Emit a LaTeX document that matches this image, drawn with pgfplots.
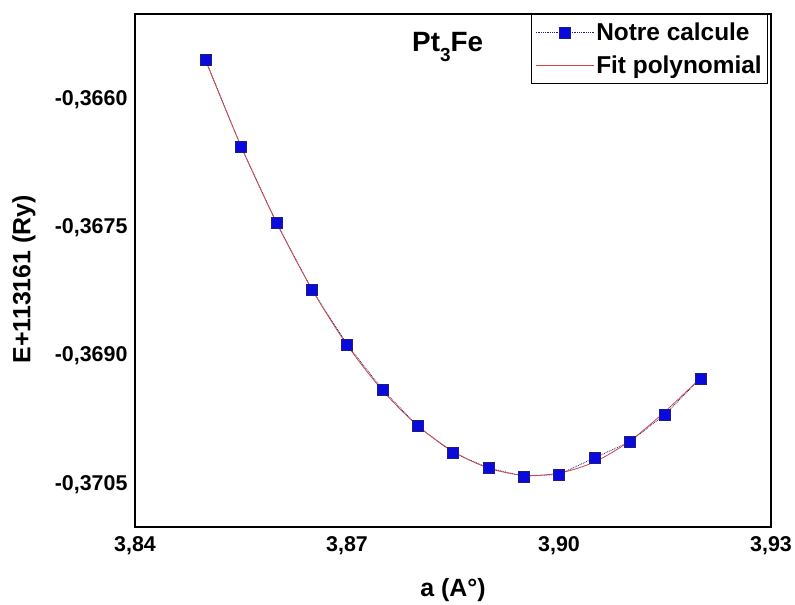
\documentclass[border=0pt]{standalone}
\usepackage{pgfplots}
\pgfplotsset{compat=1.18}
\usepackage{fontspec}
\setmainfont{Liberation Sans}
\definecolor{markblue}{RGB}{10,10,220}
\definecolor{markedge}{RGB}{30,30,130}
\definecolor{fitred}{RGB}{205,70,70}
\pgfplotsset{
  marklegend/.style={legend image code/.code={
    \draw[mark repeat=2,mark phase=2,#1] plot coordinates {(0bp,0bp)(29bp,0bp)(58bp,0bp)};}},
  linelegend/.style={legend image code/.code={\draw[#1] (0bp,0bp) -- (58bp,0bp);}},
}
\begin{document}
\begin{tikzpicture}
\path[use as bounding box] (0,0) rectangle (795bp,605bp);
\begin{axis}[
  at={(135bp,78bp)}, anchor=south west,
  scale only axis, width=636bp, height=513bp,
  xmin=3.84, xmax=3.93, ymin=-0.3710, ymax=-0.3650,
  axis line style={line width=1.8bp},
  major tick length=0pt,
  xtick={3.84,3.87,3.90,3.93},
  xticklabels={{3,84},{3,87},{3,90},{3,93}},
  ytick={-0.3705,-0.3690,-0.3675,-0.3660},
  yticklabels={{-0,3705},{-0,3690},{-0,3675},{-0,3660}},
  tick label style={font=\fontsize{21.5}{25}\selectfont\bfseries},
  xticklabel style={yshift=-6bp},
  yticklabel style={xshift=-4bp},
  xlabel={a (A°)}, ylabel={E+113161 (Ry)},
  label style={font=\fontsize{25}{29}\selectfont\bfseries},
  xlabel style={at={(axis description cs:0.5,-0.123)}, anchor=center},
  ylabel style={at={(axis description cs:-0.1745,0.483)}, anchor=center},
  legend style={at={(rel axis cs:0.9953,1)}, anchor=north east,
    draw=black, line width=0.6bp, font=\fontsize{24.5}{28}\selectfont\bfseries,
    inner xsep=4bp, inner ysep=6.5bp, row sep=10bp,
    /tikz/every even column/.append style={column sep=8bp}},
  legend cell align=left,
]
\addplot[densely dotted, markedge, line width=0.8bp, mark=square*, mark size=5.5bp,
  mark options={solid, fill=markblue, draw=markedge, line width=0.4bp}, marklegend]
coordinates {
(3.850,-0.365539) (3.855,-0.366551) (3.860,-0.367438) (3.865,-0.368219)
(3.870,-0.368863) (3.875,-0.369390) (3.880,-0.369820) (3.885,-0.370133)
(3.890,-0.370309) (3.895,-0.370406) (3.900,-0.370386) (3.905,-0.370192)
(3.910,-0.370004) (3.915,-0.369684) (3.920,-0.369262)
};
\addlegendentry{Notre calcule}
\addplot[fitred, line width=0.8bp, smooth, no marks, linelegend]
coordinates {
(3.850,-0.365545) (3.855,-0.366545) (3.860,-0.367435) (3.865,-0.368215)
(3.870,-0.368870) (3.875,-0.369400) (3.880,-0.369815) (3.885,-0.370115)
(3.890,-0.370310) (3.895,-0.370395) (3.900,-0.370370) (3.905,-0.370240)
(3.910,-0.369995) (3.915,-0.369650) (3.920,-0.369260)
};
\addlegendentry{Fit polynomial}
\node[font=\fontsize{28}{32}\selectfont\bfseries, anchor=base west, inner sep=0pt]
  at (rel axis cs:0.4355,0.926) {Pt\raisebox{-10bp}{\fontsize{19}{21}\selectfont 3}Fe};
\end{axis}
\end{tikzpicture}
\end{document}
